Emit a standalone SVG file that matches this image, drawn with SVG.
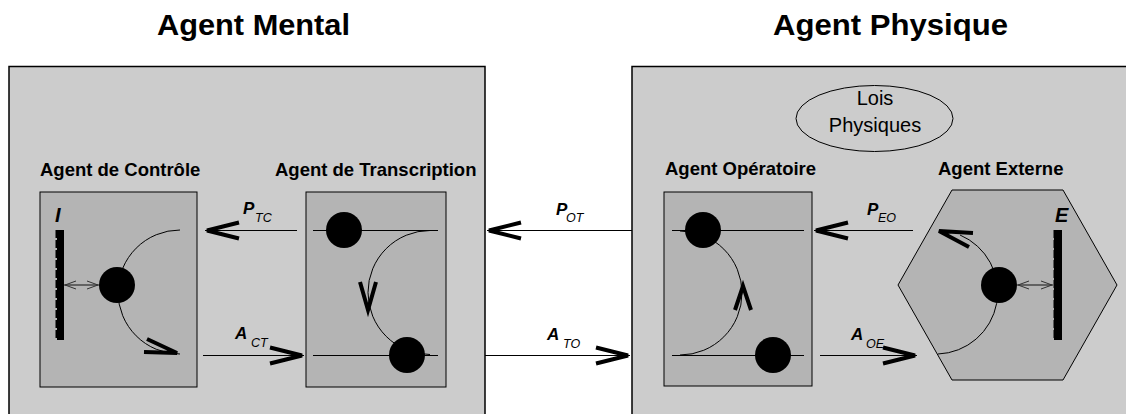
<svg xmlns="http://www.w3.org/2000/svg" xmlns:xlink="http://www.w3.org/1999/xlink" width="1126" height="414" viewBox="0 0 1126 414">
<style>
.big{fill:#cccccc;stroke:#000;stroke-width:1.5}
.inner{fill:#b4b4b4;stroke:#000;stroke-width:1}
.ln{fill:none;stroke:#000;stroke-width:1}
.head{fill:none;stroke:#000;stroke-width:4;stroke-linejoin:miter;stroke-linecap:butt}
.thin{fill:none;stroke:#333;stroke-width:1}
.dot{fill:#000}
.title{font-family:"Liberation Sans",Arial,sans-serif;font-weight:bold;font-size:29px;fill:#000}
.lab{font-family:"Liberation Sans",Arial,sans-serif;font-weight:bold;font-size:18.5px;fill:#000}
.big-i{font-family:"Liberation Sans",Arial,sans-serif;font-weight:bold;font-style:italic;font-size:17px;fill:#000}
.sub{font-family:"Liberation Sans",Arial,sans-serif;font-style:italic;font-size:12.5px;fill:#000}
.wall{font-family:"Liberation Sans",Arial,sans-serif;font-weight:bold;font-style:italic;font-size:20px;fill:#000}
.law{font-family:"Liberation Sans",Arial,sans-serif;font-weight:normal;font-size:20px;fill:#000}
</style>
<defs>
<path id="ahL" class="head" d="M34,-8 L2,0 L34,8"/>
<path id="ahR" class="head" d="M-34,-8 L-2,0 L-34,8"/>
</defs>
<rect width="1126" height="414" fill="#fff"/>

<text class="title" x="157" y="35" textLength="193" lengthAdjust="spacingAndGlyphs">Agent Mental</text>
<text class="title" x="773" y="35" textLength="235" lengthAdjust="spacingAndGlyphs">Agent Physique</text>

<g id="agent-mental">
<rect class="big" x="9" y="66.5" width="476" height="360"/>
</g>
<g id="agent-physique">
<rect class="big" x="632" y="66.5" width="500" height="360"/>
</g>

<g id="lois-physiques">
<ellipse cx="874.5" cy="118.5" rx="78.5" ry="33" fill="none" stroke="#000" stroke-width="1"/>
<text class="law" x="875" y="105" text-anchor="middle">Lois</text>
<text class="law" x="875" y="132" text-anchor="middle">Physiques</text>
</g>

<g id="agent-controle">
<text class="lab" x="40" y="176">Agent de Contrôle</text>
<rect class="inner" x="40" y="192" width="157" height="195"/>
<rect x="57" y="230" width="7" height="110" fill="#000"/>
<line x1="56.5" y1="230" x2="56.5" y2="340" stroke="#000" stroke-width="2" stroke-dasharray="8,2"/>
<text class="wall" x="55" y="222">I</text>
<path class="ln" d="M180,230 A62,62 0 0 0 180,354"/>
<polyline class="head" points="147,339 177,353 144,352"/>
<line x1="64" y1="285" x2="99" y2="285" stroke="#111" stroke-width="1"/>
<polyline class="thin" points="76,281 65,285 76,289"/>
<polyline class="thin" points="87,281 98,285 87,289"/>
<circle class="dot" cx="117" cy="285" r="18"/>
</g>

<g id="agent-transcription">
<text class="lab" x="275" y="176">Agent de Transcription</text>
<rect class="inner" x="306" y="192" width="140" height="195"/>
<line class="ln" x1="313" y1="230.5" x2="438" y2="230.5"/>
<line class="ln" x1="313" y1="355.5" x2="438" y2="355.5"/>
<path class="ln" d="M430,230.5 A62,62 0 0 0 430,354.5"/>
<polyline class="head" points="360,282 368,310 376,282"/>
<circle class="dot" cx="344" cy="230" r="18"/>
<circle class="dot" cx="407" cy="355" r="18"/>
</g>

<g id="agent-operatoire">
<text class="lab" x="665" y="175">Agent Opératoire</text>
<rect class="inner" x="664" y="192" width="148" height="194"/>
<line class="ln" x1="672" y1="230.5" x2="804" y2="230.5"/>
<line class="ln" x1="672" y1="355.5" x2="804" y2="355.5"/>
<path class="ln" d="M680,355 A62,62 0 0 0 680,231"/>
<polyline class="head" points="735,310 743,286 751,310"/>
<circle class="dot" cx="703" cy="230" r="18"/>
<circle class="dot" cx="773" cy="355" r="18"/>
</g>

<g id="agent-externe">
<text class="lab" x="938" y="175">Agent Externe</text>
<polygon class="inner" points="952,190 1063,190 1117,285 1063,380 952,380 898,285"/>
<path class="ln" d="M938,354 A62,62 0 0 0 960,235"/>
<polyline class="head" points="973,233 939,231 969,247"/>
<rect x="1054" y="230" width="8" height="110" fill="#000"/>
<line x1="1054.5" y1="230" x2="1054.5" y2="340" stroke="#000" stroke-width="2" stroke-dasharray="8,2"/>
<text class="wall" x="1055" y="222">E</text>
<line x1="1017" y1="285" x2="1053" y2="285" stroke="#111" stroke-width="1"/>
<polyline class="thin" points="1029,281 1018,285 1029,289"/>
<polyline class="thin" points="1041,281 1052,285 1041,289"/>
<circle class="dot" cx="999" cy="285" r="18"/>
</g>

<g id="connectors">
<line class="ln" x1="205" y1="230.5" x2="297" y2="230.5"/>
<use xlink:href="#ahL" x="205" y="230.5"/>
<text class="big-i" x="243" y="214">P</text><text class="sub" x="255" y="222">TC</text>

<line class="ln" x1="203" y1="355.5" x2="304" y2="355.5"/>
<use xlink:href="#ahR" x="304" y="355.5"/>
<text class="big-i" x="235" y="339">A</text><text class="sub" x="251" y="347">CT</text>

<line class="ln" x1="487" y1="230.5" x2="632" y2="230.5"/>
<use xlink:href="#ahL" x="487" y="230.5"/>
<text class="big-i" x="556" y="215">P</text><text class="sub" x="566" y="222">OT</text>

<line class="ln" x1="485" y1="355.5" x2="630" y2="355.5"/>
<use xlink:href="#ahR" x="630" y="355.5"/>
<text class="big-i" x="547" y="340">A</text><text class="sub" x="563" y="348">TO</text>

<line class="ln" x1="814" y1="230.5" x2="913" y2="230.5"/>
<use xlink:href="#ahL" x="814" y="230.5"/>
<text class="big-i" x="867" y="215">P</text><text class="sub" x="878" y="222">EO</text>

<line class="ln" x1="820" y1="355.5" x2="917" y2="355.5"/>
<use xlink:href="#ahR" x="917" y="355.5"/>
<text class="big-i" x="851" y="340">A</text><text class="sub" x="866" y="348">OE</text>
</g>
</svg>
